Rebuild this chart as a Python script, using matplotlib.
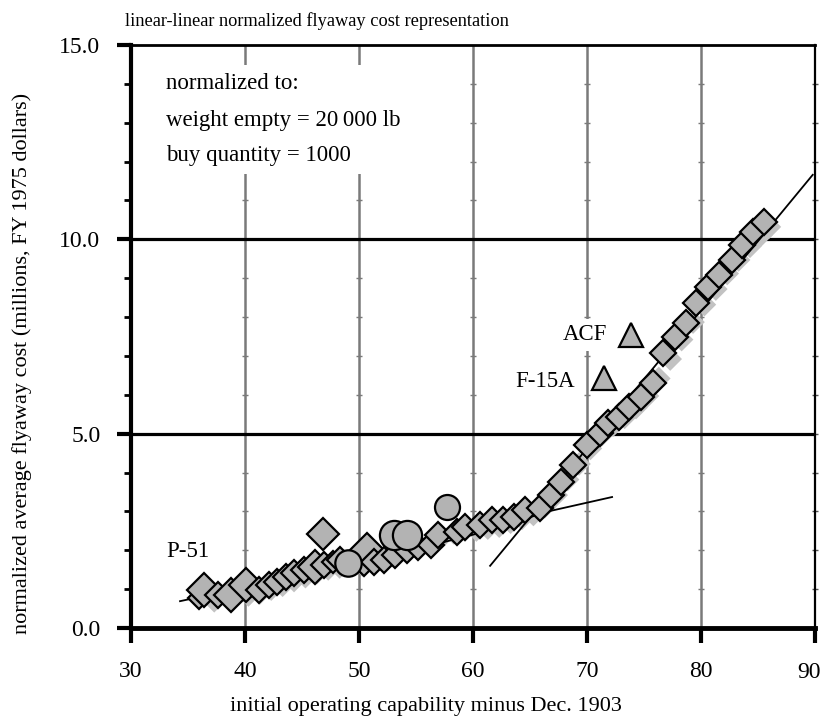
import matplotlib
matplotlib.use("Agg")
import matplotlib.pyplot as plt
from matplotlib.patches import Rectangle
import numpy as np

plt.rcParams['font.family'] = ['Liberation Serif', 'DejaVu Serif']

# ---------------- data ----------------
# main aircraft points (diamonds): IOC year offset, normalized cost, marker size
dia_x = [36.0, 36.4, 37.6, 38.8, 40.1, 41.2, 42.1, 42.8, 43.6, 44.3, 45.2, 46.1,
         46.9, 46.8, 47.7, 48.3, 50.4, 50.7, 51.3, 52.2, 53.2, 54.2, 55.2, 56.3,
         56.9, 58.6, 59.3, 60.6, 61.7, 62.6, 63.6, 64.6, 65.9, 66.8, 67.7, 68.8,
         70.0, 71.1, 71.8, 72.8, 73.7, 74.7, 75.8, 76.7, 77.7, 78.7, 79.6, 80.6,
         81.6, 82.7, 83.6, 84.6, 85.5]
dia_y = [0.76, 0.98, 0.85, 0.85, 1.11, 0.98, 1.11, 1.19, 1.32, 1.41, 1.49, 1.58,
         1.62, 2.42, 1.71, 1.75, 1.66, 2.01, 1.71, 1.75, 1.88, 2.01, 2.09, 2.14,
         2.39, 2.48, 2.61, 2.65, 2.78, 2.78, 2.86, 3.04, 3.09, 3.42, 3.76, 4.19,
         4.71, 5.02, 5.27, 5.43, 5.69, 5.94, 6.30, 7.08, 7.49, 7.85, 8.36, 8.77,
         9.08, 9.47, 9.85, 10.19, 10.45]
dia_size = [11, 17, 13, 17, 17, 13, 13, 13, 13, 13, 13, 17,
            13, 16, 11, 13, 13, 17, 13, 13, 13, 13, 13, 13,
            13, 13, 13, 13, 13, 13, 13, 13, 13, 13, 13, 13,
            13, 13, 13, 13, 13, 13, 13, 13, 13, 13, 13, 13,
            13, 13, 13, 13, 13]

# light grey companion series (no outline)
shd_x = [37.3, 38.8, 40.3, 41.3, 42.3, 43.3, 44.3, 45.3, 46.3, 47.3, 48.3, 49.3,
         50.3, 51.3, 52.3, 53.3, 54.3, 55.3, 56.3, 57.3, 58.3, 59.3, 60.3, 61.3,
         62.3, 63.3, 64.3, 65.3, 66.3, 67.3, 68.3, 69.3, 70.3, 71.3, 72.3, 73.3,
         74.3, 75.3, 76.3, 77.3, 78.3, 79.3, 80.3, 81.3, 82.3, 83.3, 84.3, 85.3, 86.0]
shd_y = [0.70, 0.72, 0.85, 0.90, 1.00, 1.10, 1.22, 1.32, 1.42, 1.52, 1.57, 1.62,
         1.62, 1.67, 1.77, 1.87, 1.97, 2.07, 2.17, 2.35, 2.45, 2.52, 2.52, 2.57,
         2.62, 2.72, 2.82, 2.92, 3.12, 3.42, 3.82, 4.22, 4.62, 4.97, 5.22, 5.42,
         5.67, 5.97, 6.42, 6.92, 7.42, 7.87, 8.32, 8.72, 9.12, 9.47, 9.82, 10.12, 10.32]

# circles
circ_x = [49.0, 53.1, 54.2, 57.7]
circ_y = [1.66, 2.39, 2.39, 3.12]
circ_size = [19, 21, 21, 18]

# triangles (F-15A, ACF)
tri_x = [71.5, 73.9]
tri_y = [6.43, 7.54]
tri_labels = ["F-15A", "ACF"]

# trend lines
lo_x = [34.3, 40.0, 45.0, 50.0, 55.0, 60.0, 65.0, 66.6, 72.2]
lo_y = [0.69, 1.05, 1.38, 1.70, 2.03, 2.40, 2.85, 3.00, 3.37]
hi_x = [61.5, 89.8]
hi_y = [1.60, 11.66]

xticks = [30, 40, 50, 60, 70, 80, 90]
yticks = [0.0, 5.0, 10.0, 15.0]

GRAY = '#b3b3b3'
LIGHT = '#c2c2c2'

# ---------------- figure ----------------
fig = plt.figure(figsize=(8.23, 7.21), dpi=100)
ax = fig.add_axes([131/823, 1-628/721, (815-131)/823, (628-45)/721])
ax.set_xlim(30, 90)
ax.set_ylim(0, 15)

# grid
for gx in [40, 50, 60, 70, 80]:
    ax.axvline(gx, color='#7a7a7a', lw=1.8, zorder=1)
    ax.plot([gx]*14, np.arange(1, 15), ls='none', marker='_', ms=5,
            mew=1.0, color='#7a7a7a', zorder=1)
ax.plot([90]*14, np.arange(1, 15), ls='none', marker='_', ms=5,
        mew=1.0, color='#555555', zorder=1, clip_on=False)
for gy in [5, 10]:
    ax.axhline(gy, color='black', lw=2.3, zorder=1)

# white box behind the note
ax.add_patch(Rectangle((30, 11.68), 20.6, 2.81, facecolor='white',
                       edgecolor='none', zorder=2))

# series
ax.scatter(shd_x, shd_y, marker='D', s=(12**2), color=LIGHT,
           edgecolors='none', zorder=3)
ax.plot(lo_x, lo_y, color='black', lw=1.3, zorder=4)
ax.plot(hi_x, hi_y, color='black', lw=1.3, zorder=4)
for x, y, s in zip(dia_x, dia_y, dia_size):
    ax.plot(x, y, marker='D', ms=s, mfc=GRAY, mec='black', mew=1.6,
            ls='none', zorder=5)
for x, y, s in zip(circ_x, circ_y, circ_size):
    ax.plot(x, y, marker='o', ms=s, mfc=GRAY, mec='black', mew=1.6,
            ls='none', zorder=5)
ax.plot(tri_x, tri_y, marker='^', ms=17, mfc=GRAY, mec='black', mew=1.6,
        ls='none', zorder=5)

# labels on plot
ax.text(tri_x[1] - 2.1, tri_y[1], tri_labels[1], fontsize=16.5, ha='right',
        va='center', zorder=6,
        bbox=dict(facecolor='white', edgecolor='none', pad=4))
ax.text(tri_x[0] - 2.6, tri_y[0] - 0.08, tri_labels[0], fontsize=16.5,
        ha='right', va='center', zorder=6)
ax.text(33.1, 1.96, "P-51", fontsize=16.5, ha='left', va='center', zorder=6)

ax.text(33.1, 14.0, "normalized to:", fontsize=16.5, va='center', zorder=6)
ax.text(33.1, 13.05, "weight empty = 20\u2009000 lb", fontsize=16.5,
        va='center', zorder=6)
ax.text(33.1, 12.15, "buy quantity = 1000", fontsize=16.5, va='center', zorder=6)

# spines
ax.spines['left'].set_linewidth(3.0)
ax.spines['bottom'].set_linewidth(3.5)
ax.spines['top'].set_linewidth(2.0)
ax.spines['right'].set_linewidth(1.6)
for s in ax.spines.values():
    s.set_zorder(7)

ax.set_xticks(xticks)
# the last label (90) is written separately so it stays inside the figure
ax.set_xticklabels([str(v) if v != xticks[-1] else '' for v in xticks])
ax.set_yticks(yticks)
ax.set_yticklabels([f"{v:.1f}" for v in yticks])
ax.set_yticks(np.arange(0, 16, 1), minor=True)
ax.tick_params(axis='x', which='major', direction='out', length=11, width=3,
               pad=13, labelsize=17)
ax.tick_params(axis='y', which='major', direction='out', length=10, width=3,
               pad=12, labelsize=17)
ax.tick_params(axis='y', which='minor', direction='out', length=5, width=2)
ax.tick_params(axis='x', which='minor', bottom=False)

fig.text(821/823, 1-672/721, str(xticks[-1]), fontsize=17,
         ha='right', va='center')

fig.text(125/823, 1-21/721, "linear-linear normalized flyaway cost representation",
         fontsize=13.2, ha='left', va='center')
fig.text(426/823, 1-706/721, "initial operating capability minus Dec. 1903",
         fontsize=16, ha='center', va='center')
fig.text(22/823, 1-363/721,
         "normalized average flyaway cost (millions, FY 1975 dollars)",
         fontsize=16, ha='center', va='center', rotation=90)

fig.savefig("out.png", dpi=100)
